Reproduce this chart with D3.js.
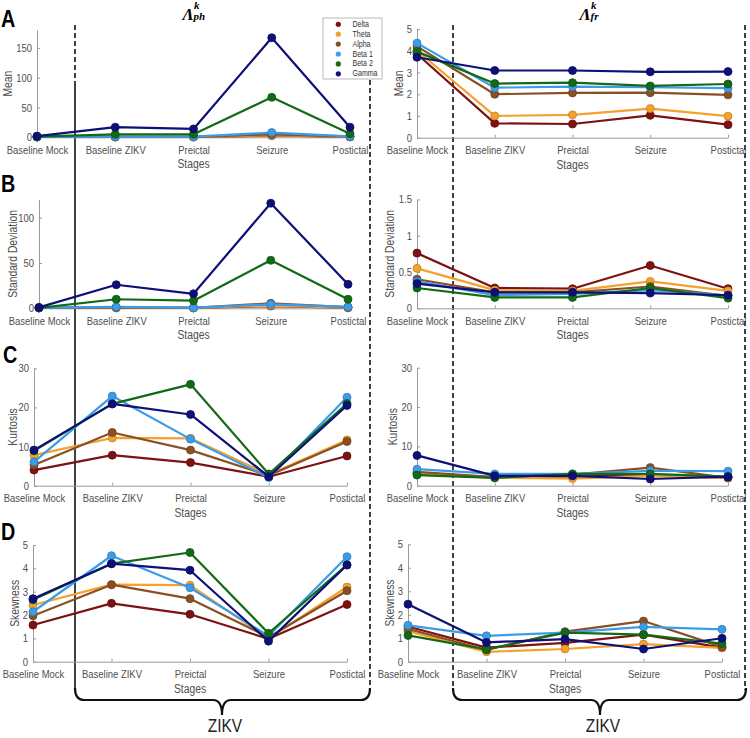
<!DOCTYPE html>
<html><head><meta charset="utf-8">
<script src="https://cdn.jsdelivr.net/npm/d3@7"></script>
<style>body{margin:0;background:#fff}svg{display:block}</style>
</head><body>
<svg id="c" width="750" height="738"></svg>
<script>
// ---------- DATA ----------
const stages = ["Baseline Mock", "Baseline ZIKV", "Preictal", "Seizure", "Postictal"];
const bands = ["Delta", "Theta", "Alpha", "Beta 1", "Beta 2", "Gamma"];
const bandColors = ["#7c1212", "#f4a12e", "#8a5024", "#3b9ce8", "#136a16", "#0e1078"];

// rows follow `bands` order
const meanPh = [
  [0.5, 0.5, 0.5, 3, 0.6],
  [0.5, 0.6, 0.6, 3.5, 0.8],
  [0.5, 0.8, 0.8, 5, 1.2],
  [0.6, 1, 1, 8, 1.5],
  [1, 5, 5, 67, 6],
  [2, 17, 14, 167, 17]
];
const meanFr = [
  [3.85, 0.66, 0.63, 1.03, 0.6],
  [4.0, 1.0, 1.05, 1.34, 0.99],
  [4.2, 2.0, 2.06, 2.07, 1.97],
  [4.35, 2.3, 2.35, 2.32, 2.28],
  [3.96, 2.49, 2.53, 2.38, 2.47],
  [3.7, 3.09, 3.09, 3.03, 3.04]
];
const sdPh = [
  [0.4, 0.5, 0.4, 2.5, 0.6],
  [0.4, 0.7, 0.5, 3, 0.8],
  [0.5, 1, 0.6, 5.5, 1.2],
  [0.5, 1.5, 0.7, 4.4, 1.5],
  [0.5, 10, 8.4, 53, 10],
  [1, 26, 16, 116, 26.5]
];
const sdFr = [
  [0.76, 0.28, 0.27, 0.59, 0.27],
  [0.55, 0.25, 0.24, 0.37, 0.24],
  [0.40, 0.22, 0.22, 0.30, 0.17],
  [0.37, 0.18, 0.20, 0.25, 0.18],
  [0.28, 0.15, 0.15, 0.28, 0.14],
  [0.34, 0.22, 0.22, 0.21, 0.18]
];
const kurtPh = [
  [4.0, 7.8, 5.9, 2.3, 7.6],
  [7.8, 12.2, 12.1, 2.8, 11.7],
  [5.3, 13.6, 9.1, 2.6, 11.3],
  [6.1, 22.9, 11.9, 2.1, 22.6],
  [8.9, 20.9, 25.9, 3.0, 21.0],
  [9.1, 20.9, 18.2, 2.3, 20.5]
];
const kurtFr = [
  [3.0, 2.1, 2.3, 2.7, 2.0],
  [3.2, 2.0, 1.8, 2.5, 2.0],
  [3.5, 2.2, 2.8, 4.6, 2.0],
  [4.2, 3.0, 3.0, 3.8, 3.7],
  [2.7, 2.0, 3.0, 3.0, 2.3],
  [7.7, 2.5, 2.5, 1.7, 2.3]
];
const skewPh = [
  [1.57, 2.5, 2.03, 0.98, 2.45],
  [2.43, 3.3, 3.28, 1.0, 3.2],
  [1.97, 3.3, 2.7, 1.05, 3.04],
  [2.14, 4.54, 3.17, 1.1, 4.5],
  [2.65, 4.2, 4.68, 1.22, 4.15],
  [2.7, 4.2, 3.92, 0.88, 4.14]
];
const skewFr = [
  [1.5, 0.6, 0.8, 1.15, 0.6],
  [1.3, 0.42, 0.54, 0.75, 0.59],
  [1.4, 0.5, 1.28, 1.73, 0.63],
  [1.55, 1.1, 1.24, 1.48, 1.38],
  [1.12, 0.52, 1.24, 1.15, 0.77],
  [2.45, 0.82, 0.96, 0.54, 1.0]
];

const ticksMeanPh = [0, 50, 100, 150];
const ticksMeanFr = [0, 1, 2, 3, 4, 5];
const ticksSdPh = [0, 50, 100];
const ticksSdFr = [0, 0.5, 1, 1.5];
const ticksKurt = [0, 10, 20, 30];
const ticksSkew = [0, 1, 2, 3, 4, 5];

const panelLetters = ["A", "B", "C", "D"];
const yLabels = ["Mean", "Standard Deviation", "Kurtosis", "Skewness"];
const xTitle = "Stages";
const groupLabel = "ZIKV";

// ---------- LAYOUT ----------
const svg = d3.select("#c");
const axisGray = "#9a9a9a", textGray = "#4f4f4f";

const panels = [
  {data: meanPh, dom: [0, 180], ticks: ticksMeanPh, x0: 37, x1: 350, top: 30, bot: 137.3, lab: 0, lx: 8},
  {data: meanFr, dom: [0, 5], ticks: ticksMeanFr, x0: 417, x1: 728, top: 29, bot: 137.7, lab: 0, lx: 399},
  {data: sdPh, dom: [0, 120], ticks: ticksSdPh, x0: 39, x1: 348, top: 199.6, bot: 308.3, lab: 1, lx: 12.5},
  {data: sdFr, dom: [0, 1.5], ticks: ticksSdFr, x0: 417, x1: 728, top: 199.4, bot: 308.3, lab: 1, lx: 390},
  {data: kurtPh, dom: [0, 30], ticks: ticksKurt, x0: 34, x1: 347, top: 368.3, bot: 485.7, lab: 2, lx: 12.5},
  {data: kurtFr, dom: [0, 30], ticks: ticksKurt, x0: 417, x1: 728, top: 367.7, bot: 485.7, lab: 2, lx: 393},
  {data: skewPh, dom: [0, 5], ticks: ticksSkew, x0: 33, x1: 347, top: 545, bot: 661.7, lab: 3, lx: 15},
  {data: skewFr, dom: [0, 5], ticks: ticksSkew, x0: 408, x1: 722, top: 544.3, bot: 661.7, lab: 3, lx: 390}
];

// ---------- SEPARATORS & BRACES (drawn first, under plots) ----------
const sep = svg.append("g").attr("stroke", "#111").attr("stroke-width", 1.6).attr("fill", "none");
sep.append("line").attr("x1", 75).attr("x2", 75).attr("y1", 25).attr("y2", 83).attr("stroke-dasharray", "5,3");
sep.append("line").attr("x1", 75).attr("x2", 75).attr("y1", 83).attr("y2", 690);
[[370, 80], [453, 25], [745, 25]].forEach(([xx, y0]) => {
  sep.append("line").attr("x1", xx).attr("x2", xx).attr("y1", y0).attr("y2", 690).attr("stroke-dasharray", "5,3");
});

function brace(xa, xb, xm) {
  const yT = 688, yH = 700, yTip = 715, r = 9;
  return `M${xa},${yT} Q${xa},${yH} ${xa + r},${yH} L${xm - r},${yH} Q${xm},${yH} ${xm},${yTip} Q${xm},${yH} ${xm + r},${yH} L${xb - r},${yH} Q${xb},${yH} ${xb},${yT}`;
}
const br = svg.append("g").attr("fill", "none").attr("stroke", "#111").attr("stroke-width", 2.2);
br.append("path").attr("d", brace(75, 370, 222));
br.append("path").attr("d", brace(453, 746, 600));
[[225, 732], [603, 732]].forEach(([xx, yy]) => {
  svg.append("text").attr("class", "sq").attr("x", xx).attr("y", yy).attr("text-anchor", "middle")
    .attr("font-family", "Liberation Sans, Arial, sans-serif").attr("font-size", 18).attr("fill", "#222").text(groupLabel);
});

// ---------- PANELS ----------
panels.forEach(p => {
  const x = d3.scalePoint().domain(stages).range([p.x0, p.x1]).padding(0);
  const y = d3.scaleLinear().domain(p.dom).range([p.bot, p.top]);
  const g = svg.append("g");

  const ya = g.append("g").attr("transform", `translate(${p.x0},0)`)
    .call(d3.axisLeft(y).tickValues(p.ticks).tickSizeInner(-3).tickSizeOuter(0).tickPadding(5).tickFormat(d3.format("~g")));
  const xa = g.append("g").attr("transform", `translate(0,${p.bot})`)
    .call(d3.axisBottom(x).tickSizeInner(-3).tickSizeOuter(0).tickPadding(9));
  [ya, xa].forEach(a => {
    a.attr("font-family", "Liberation Sans, Arial, sans-serif").attr("font-size", 11);
    a.select(".domain").attr("stroke", axisGray).attr("stroke-width", 1);
    a.selectAll(".tick line").attr("stroke", axisGray);
    a.selectAll(".tick text").attr("fill", textGray).classed("sq", true);
  });

  g.append("text").attr("class", "sq").attr("x", (p.x0 + p.x1) / 2).attr("y", p.bot + 31)
    .attr("text-anchor", "middle").attr("font-family", "Liberation Sans, Arial, sans-serif")
    .attr("font-size", 12).attr("fill", textGray).text(xTitle);
  g.append("text").attr("class", "sq")
    .attr("transform", `translate(${p.lx},${(p.top + p.bot) / 2}) rotate(-90)`)
    .attr("text-anchor", "middle").attr("dominant-baseline", "central")
    .attr("font-family", "Liberation Sans, Arial, sans-serif")
    .attr("font-size", 12).attr("fill", textGray).text(yLabels[p.lab]);

  const line = d3.line().x((d, i) => x(stages[i])).y(d => y(d));
  p.data.forEach((vals, k) => {
    const c = bandColors[k];
    g.append("path").attr("d", line(vals)).attr("fill", "none").attr("stroke", c)
      .attr("stroke-width", 2.2).attr("stroke-linejoin", "round");
    g.selectAll(null).data(vals).enter().append("circle")
      .attr("cx", (d, i) => x(stages[i])).attr("cy", d => y(d)).attr("r", 4)
      .attr("fill", c).attr("stroke", d3.color(c).darker(0.6)).attr("stroke-width", 0.8);
  });
});

// ---------- PANEL LETTERS ----------
[[1, 27], [1, 192], [3, 363], [1, 540]].forEach(([xx, yy], i) => {
  svg.append("text").attr("class", "sq").attr("x", xx).attr("y", yy)
    .attr("font-family", "Liberation Sans, Arial, sans-serif").attr("font-weight", "bold")
    .attr("font-size", 23).attr("fill", "#000").text(panelLetters[i]);
});

// ---------- TITLES ----------
function title(xx, sub) {
  const t = svg.append("g").attr("font-family", "Liberation Serif, Times New Roman, serif")
    .attr("font-weight", "bold").attr("font-style", "italic").attr("fill", "#000");
  t.append("text").attr("x", xx).attr("y", 20).attr("font-size", 17).text("Λ");
  t.append("text").attr("x", xx + 11.5).attr("y", 9).attr("font-size", 11).text("k");
  t.append("text").attr("x", xx + 11).attr("y", 20).attr("font-size", 11).text(sub);
}
title(182.5, "ph");
title(579.5, "fr");

// ---------- LEGEND ----------
const lg = svg.append("g");
lg.append("rect").attr("x", 323).attr("y", 18).attr("width", 59).attr("height", 61)
  .attr("fill", "#fff").attr("stroke", "#a8a8a8").attr("stroke-width", 0.8);
bands.forEach((b, i) => {
  const yy = 24.3 + i * 9.9;
  lg.append("circle").attr("cx", 338.3).attr("cy", yy).attr("r", 2.6).attr("fill", bandColors[i]);
  lg.append("text").attr("class", "sq").attr("x", 352.5).attr("y", yy).attr("dominant-baseline", "central")
    .attr("font-family", "Liberation Sans, Arial, sans-serif").attr("font-size", 8.2).attr("fill", "#333").text(b);
});

// ---------- horizontal compression of text to match reference ----------
svg.selectAll("text.sq").each(function () {
  const w = this.getComputedTextLength();
  if (w > 0) d3.select(this).attr("textLength", w * 0.86).attr("lengthAdjust", "spacingAndGlyphs");
});
</script>
</body></html>
